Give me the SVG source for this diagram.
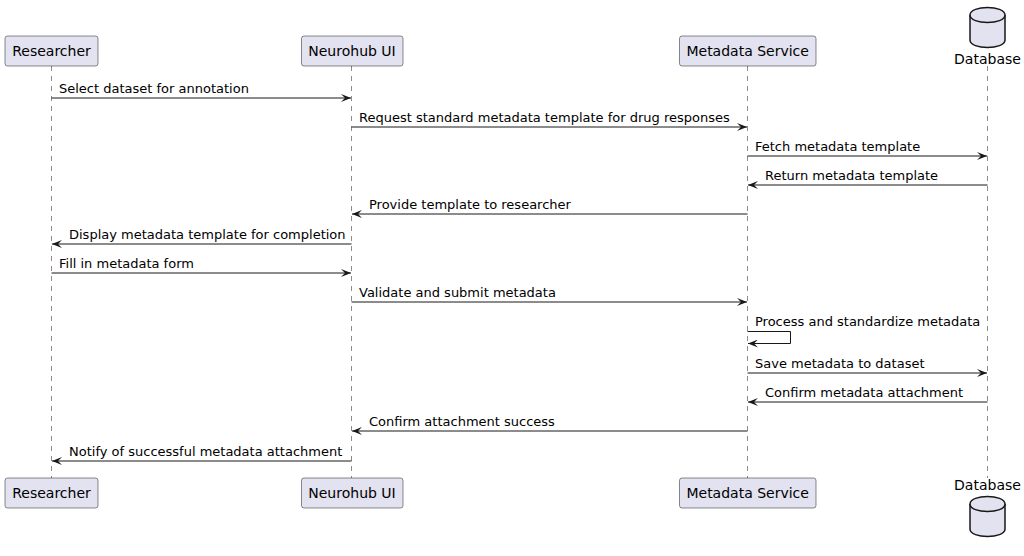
<svg xmlns="http://www.w3.org/2000/svg" width="1024" height="556" viewBox="0 0 1024 556">
<defs>
<style>
.box{fill:#E2E2F0;stroke:#181818;stroke-width:0.5}
.life{stroke:#181818;stroke-width:0.5;stroke-dasharray:5,5;fill:none}
.pn{font-family:"DejaVu Sans",sans-serif;font-size:14px;fill:#000}
.ml{font-family:"DejaVu Sans",sans-serif;font-size:13px;fill:#000}
.msg{stroke:#181818;stroke-width:1;fill:none}
.db{fill:#E2E2F0;stroke:#181818;stroke-width:1.5}
</style>
<marker id="ah" viewBox="0 0 10 8" refX="10" refY="4" markerWidth="10" markerHeight="8" markerUnits="userSpaceOnUse" orient="auto">
<polygon points="0,0 10,4 0,8 4,4" fill="#181818"/>
</marker>
</defs>
<rect width="1024" height="556" fill="#FFFFFF"/>
<g id="lifelines">
<line class="life" x1="51.5" y1="66" x2="51.5" y2="478"/>
<line class="life" x1="351.5" y1="66" x2="351.5" y2="478"/>
<line class="life" x1="747.5" y1="66" x2="747.5" y2="478"/>
<line class="life" x1="987.5" y1="66" x2="987.5" y2="478"/>
</g>
<g id="researcher">
<rect class="box" x="5" y="36" width="93" height="30" rx="2.5"/>
<text class="pn" x="51.5" y="56" text-anchor="middle">Researcher</text>
<rect class="box" x="5" y="478" width="93" height="30" rx="2.5"/>
<text class="pn" x="51.5" y="498" text-anchor="middle">Researcher</text>
</g>
<g id="neurohub">
<rect class="box" x="301.5" y="36" width="101.5" height="30" rx="2.5"/>
<text class="pn" x="352" y="56" text-anchor="middle">Neurohub UI</text>
<rect class="box" x="301.5" y="478" width="101.5" height="30" rx="2.5"/>
<text class="pn" x="352" y="498" text-anchor="middle">Neurohub UI</text>
</g>
<g id="metadata">
<rect class="box" x="679.5" y="36" width="136.5" height="30" rx="2.5"/>
<text class="pn" x="747.7" y="56" text-anchor="middle">Metadata Service</text>
<rect class="box" x="679.5" y="478" width="136.5" height="30" rx="2.5"/>
<text class="pn" x="747.7" y="498" text-anchor="middle">Metadata Service</text>
</g>
<g id="database">
<path class="db" d="M970,15 C970,5 1005,5 1005,15 L1005,40 C1005,50 970,50 970,40 Z"/>
<path class="db" d="M970,15 C970,25 1005,25 1005,15" fill="none"/>
<text class="pn" x="987.5" y="64" text-anchor="middle">Database</text>
<path class="db" d="M970,504 C970,494 1005,494 1005,504 L1005,529 C1005,539 970,539 970,529 Z"/>
<path class="db" d="M970,504 C970,514 1005,514 1005,504" fill="none"/>
<text class="pn" x="987.5" y="490" text-anchor="middle">Database</text>
</g>
<g id="connectors">
<line class="msg" x1="51.5" y1="98" x2="351" y2="98" marker-end="url(#ah)"/>
<text class="ml" x="59" y="93">Select dataset for annotation</text>
<line class="msg" x1="351.5" y1="127" x2="747" y2="127" marker-end="url(#ah)"/>
<text class="ml" x="359" y="122">Request standard metadata template for drug responses</text>
<line class="msg" x1="747.5" y1="156" x2="987" y2="156" marker-end="url(#ah)"/>
<text class="ml" x="755" y="151">Fetch metadata template</text>
<line class="msg" x1="987.5" y1="185" x2="748" y2="185" marker-end="url(#ah)"/>
<text class="ml" x="765" y="180">Return metadata template</text>
<line class="msg" x1="747.5" y1="214" x2="352" y2="214" marker-end="url(#ah)"/>
<text class="ml" x="369" y="209">Provide template to researcher</text>
<line class="msg" x1="351.5" y1="244" x2="52" y2="244" marker-end="url(#ah)"/>
<text class="ml" x="69" y="239">Display metadata template for completion</text>
<line class="msg" x1="51.5" y1="273" x2="351" y2="273" marker-end="url(#ah)"/>
<text class="ml" x="59" y="268">Fill in metadata form</text>
<line class="msg" x1="351.5" y1="302" x2="747" y2="302" marker-end="url(#ah)"/>
<text class="ml" x="359" y="297">Validate and submit metadata</text>
<polyline class="msg" points="747.5,331.5 790.5,331.5 790.5,343.5 748,343.5" marker-end="url(#ah)"/>
<text class="ml" x="755" y="326">Process and standardize metadata</text>
<line class="msg" x1="747.5" y1="373" x2="987" y2="373" marker-end="url(#ah)"/>
<text class="ml" x="755" y="368">Save metadata to dataset</text>
<line class="msg" x1="987.5" y1="402" x2="748" y2="402" marker-end="url(#ah)"/>
<text class="ml" x="765" y="397">Confirm metadata attachment</text>
<line class="msg" x1="747.5" y1="431" x2="352" y2="431" marker-end="url(#ah)"/>
<text class="ml" x="369" y="426">Confirm attachment success</text>
<line class="msg" x1="351.5" y1="461" x2="52" y2="461" marker-end="url(#ah)"/>
<text class="ml" x="69" y="456">Notify of successful metadata attachment</text>
</g>
</svg>
